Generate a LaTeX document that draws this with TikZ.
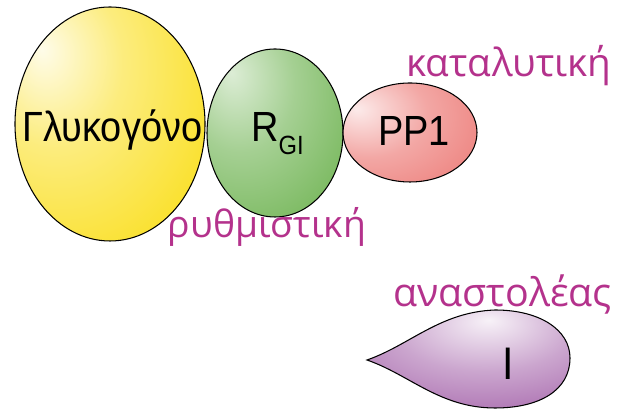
\documentclass[tikz,border=0pt]{standalone}
\usepackage{fontspec}
\setmainfont{Liberation Sans}
\newfontfamily\molfont[FakeStretch=0.9]{Liberation Sans}
\newfontfamily\rolefont{Open Sans}
\usetikzlibrary{shapes.geometric}

\definecolor{glyk}{RGB}{250,224,40}
\definecolor{reg}{RGB}{116,182,88}
\definecolor{cat}{RGB}{236,120,116}
\definecolor{inh}{RGB}{160,92,166}
\definecolor{mag}{RGB}{180,50,140}

\pgfdeclareradialshading{glykshade}{\pgfpoint{-18bp}{16bp}}{color(0bp)=(white!90!glyk); color(18bp)=(glyk!60!white); color(42bp)=(glyk); color(100bp)=(glyk!88!black)}
\pgfdeclareradialshading{regshade}{\pgfpoint{-16bp}{18bp}}{color(0bp)=(white!75!reg); color(20bp)=(reg!65!white); color(45bp)=(reg); color(100bp)=(reg!85!black)}
\pgfdeclareradialshading{catshade}{\pgfpoint{-20bp}{12bp}}{color(0bp)=(white!85!cat); color(22bp)=(cat!65!white); color(50bp)=(cat); color(100bp)=(cat!88!black)}
\pgfdeclareradialshading{inhshade}{\pgfpoint{5bp}{20bp}}{color(0bp)=(white!92!inh); color(22bp)=(inh!55!white); color(50bp)=(inh); color(100bp)=(inh!88!black)}

\tikzset{
  blob/.style={ellipse, draw=black, line width=0.6pt, inner sep=0pt, shade},
  molname/.style={anchor=base, inner sep=0pt, font=\molfont\fontsize{24pt}{26pt}\selectfont},
  rolename/.style={anchor=base, inner sep=0pt, text=mag, font=\rolefont\fontsize{22pt}{24pt}\selectfont}
}

\begin{document}
\begin{tikzpicture}
\useasboundingbox (0,0) rectangle (12.5,8.24);

\node[blob, shading=glykshade, minimum width=3.8cm, minimum height=4.68cm] (glyk) at (2.2,5.76) {};
\node[blob, shading=regshade, minimum width=2.72cm, minimum height=3.36cm] (rgi) at (5.5,5.58) {};
\node[blob, shading=catshade, minimum width=2.68cm, minimum height=1.98cm] (pp1) at (8.2,5.59) {};

\draw[line width=0.6pt, shade, shading=inhshade] (7.34,1.04)
  .. controls (8.2,1.34) and (8.8,2.0) .. (9.9,2.04)
  .. controls (10.8,2.04) and (11.4,1.64) .. (11.4,1.08)
  .. controls (11.4,0.44) and (10.8,0.08) .. (9.9,0.08)
  .. controls (8.8,0.08) and (8.2,0.74) .. (7.34,1.04) -- cycle;

\node[molname] (glyk-t) at (2.25,5.4) {Γλυκογόνο};
\node[molname] (rgi-t) at (5.55,5.4) {R\raisebox{-7.4pt}{\fontsize{15pt}{16pt}\selectfont GI}};
\node[molname] (pp1-t) at (8.28,5.32) {PP1};
\node[molname, font=\molfont\fontsize{26pt}{27pt}\selectfont] (inh-t) at (10.17,0.64) {I};

\node[rolename] (cat-t) at (10.18,6.7) {καταλυτική};
\node[rolename, font=\rolefont\fontsize{21.2pt}{24pt}\selectfont] (reg-t) at (5.34,3.48) {ρυθμιστική};
\node[rolename, font=\rolefont\fontsize{22.4pt}{24pt}\selectfont] (inh-r) at (10.05,2.1) {αναστολέας};

\end{tikzpicture}
\end{document}
